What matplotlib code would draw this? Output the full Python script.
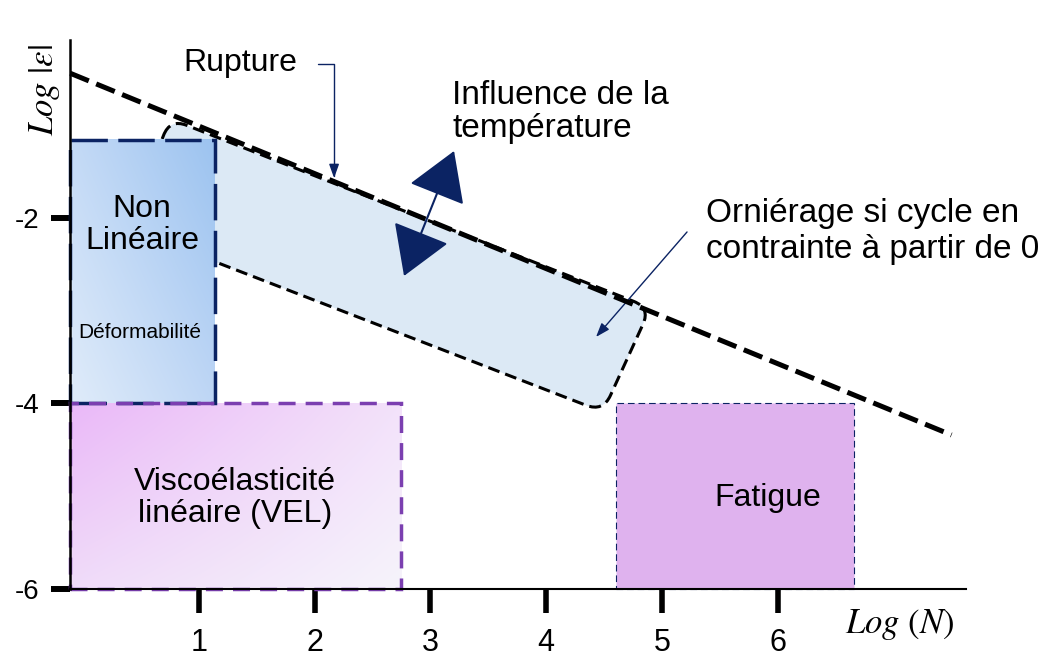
import matplotlib.pyplot as plt
import numpy as np
from matplotlib.path import Path
from matplotlib.patches import PathPatch, Rectangle, FancyArrowPatch

plt.rcParams['font.family'] = ['Liberation Sans', 'DejaVu Sans']
plt.rcParams['mathtext.fontset'] = 'stix'

# axis ticks
xticks = [1, 2, 3, 4, 5, 6]
yticks = [-2, -4, -6]
ytick_labels = ['-2', '-4', '-6']

# domains: [log N from, to], [log eps from, to]
nonlin_x = [-0.11, 1.14]
nonlin_y = [-4.0, -1.16]
vel_x = [-0.11, 2.75]
vel_y = [-6.0, -4.0]
fatigue_x = [4.60, 6.66]
fatigue_y = [-6.0, -4.0]

# rupture line
rupture_x = [-0.11, 7.50]
rupture_y = [-0.44, -4.34]

# rutting band corners (top-left, top-right, bottom-right, bottom-left)
band_x = [0.75, 4.90, 4.49, 0.39]
band_y = [-0.93, -2.97, -4.09, -2.11]

navy = '#0b2363'

fig = plt.figure(figsize=(10.46, 6.59), dpi=100)
ax = fig.add_axes([0, 0, 1, 1])
ax.set_xlim(-0.717, 8.316)
ax.set_ylim(-6.755, 0.350)


def gradient(xr, yr, c_bl, c_br, c_tl, c_tr, z):
    # blend the four corner colours over a fine grid
    u = np.linspace(0, 1, 200)[None, :, None]
    v = np.linspace(0, 1, 200)[:, None, None]
    c = [np.array(k, dtype=float) / 255.0 for k in (c_bl, c_br, c_tl, c_tr)]
    img = (1 - v) * ((1 - u) * c[0] + u * c[1]) + v * ((1 - u) * c[2] + u * c[3])
    ax.imshow(img, extent=(xr[0], xr[1], yr[0], yr[1]), origin='lower',
              interpolation='bilinear', aspect='auto', zorder=z)


def rounded_path(xs, ys, r):
    pts = ax.transData.transform(np.column_stack([xs, ys]))
    n = len(pts)
    verts, codes = [], []
    for i in range(n):
        p0, p1, p2 = pts[i - 1], pts[i], pts[(i + 1) % n]
        a = p1 + (p0 - p1) / np.linalg.norm(p0 - p1) * r
        b = p1 + (p2 - p1) / np.linalg.norm(p2 - p1) * r
        verts += [a, p1, b]
        codes += [Path.LINETO, Path.CURVE3, Path.CURVE3]
    codes[0] = Path.MOVETO
    verts.append(verts[0])
    codes.append(Path.CLOSEPOLY)
    verts = ax.transData.inverted().transform(np.array(verts))
    return Path(verts, codes)


# rutting band
band = PathPatch(rounded_path(band_x, band_y, 18), facecolor='#dce9f5',
                 edgecolor='black', lw=2.2, linestyle=(0, (3.9, 2.0)), zorder=1)
ax.add_patch(band)

# non linear box
gradient(nonlin_x, nonlin_y, (224, 236, 250), (190, 214, 245),
         (196, 218, 246), (156, 195, 240), 2)
ax.add_patch(Rectangle((nonlin_x[0], nonlin_y[0]), nonlin_x[1] - nonlin_x[0],
                       nonlin_y[1] - nonlin_y[0], fill=False, edgecolor=navy,
                       lw=2.5, linestyle=(0, (10.5, 3.0)), zorder=3))

# VEL box
gradient(vel_x, vel_y, (240, 220, 249), (246, 244, 251),
         (234, 184, 248), (243, 226, 250), 2)
ax.add_patch(Rectangle((vel_x[0], vel_y[0]), vel_x[1] - vel_x[0],
                       vel_y[1] - vel_y[0], fill=False, edgecolor='#7b3fb0',
                       lw=2.5, linestyle=(0, (4.9, 2.9)), zorder=3))

# fatigue box
ax.add_patch(Rectangle((fatigue_x[0], fatigue_y[0]), fatigue_x[1] - fatigue_x[0],
                       fatigue_y[1] - fatigue_y[0], facecolor='#dfb2ee',
                       edgecolor=navy, lw=0.8, linestyle=(0, (6, 3.5)), zorder=2))

# rupture line
ax.plot(rupture_x, rupture_y, color='black', lw=3.6, dashes=(4, 1.6),
        solid_capstyle='butt', zorder=4)

# axes
ax.spines['left'].set_position(('data', -0.112))
ax.spines['bottom'].set_position(('data', -6.0))
ax.spines['left'].set_bounds(-6.0, -0.08)
ax.spines['bottom'].set_bounds(-0.112, 7.625)
ax.spines['left'].set_linewidth(1.8)
ax.spines['bottom'].set_linewidth(1.5)
ax.spines['top'].set_visible(False)
ax.spines['right'].set_visible(False)
for s in ['left', 'bottom']:
    ax.spines[s].set_zorder(5)

ax.set_xticks(xticks)
ax.set_xticklabels([str(t) for t in xticks])
ax.set_yticks(yticks)
ax.set_yticklabels(ytick_labels)
ax.tick_params(axis='y', direction='out', length=14, width=4.3, pad=8, labelsize=20)
ax.tick_params(axis='x', direction='out', length=17, width=4, pad=11, labelsize=22)

ax.text(-0.33, -0.62, r'$Log\ |\epsilon|$', rotation=90, fontsize=25,
        ha='center', va='center')
ax.text(7.05, -6.38, r'$Log\ (N)$', fontsize=25, ha='center', va='center')

# labels in boxes
ax.text(0.51, -2.08, 'Non\nLinéaire', fontsize=23, ha='center', va='center',
        linespacing=1.08, zorder=6)
ax.text(0.49, -3.24, 'Déformabilité', fontsize=15, ha='center', va='center', zorder=6)
ax.text(1.31, -5.02, 'Viscoélasticité\nlinéaire (VEL)', fontsize=23,
        ha='center', va='center', linespacing=1.08, zorder=6)
ax.text(5.91, -5.02, 'Fatigue', fontsize=23, ha='center', va='center', zorder=6)

# annotations
ax.text(0.87, -0.33, 'Rupture', fontsize=23, ha='left', va='center')
ax.annotate('', xy=(2.168, -1.57), xytext=(2.03, -0.34),
            arrowprops=dict(arrowstyle='-|>,head_length=0.7,head_width=0.25',
                            connectionstyle='angle,angleA=0,angleB=90,rad=0',
                            shrinkA=0, shrinkB=0, color=navy, lw=1,
                            mutation_scale=12))

ax.text(3.19, -0.86, 'Influence de la\ntempérature', fontsize=24,
        ha='left', va='center', linespacing=1.1)
ax.add_patch(FancyArrowPatch((2.772, -2.625), (3.204, -1.278),
                             arrowstyle='<|-|>,head_length=31,head_width=19',
                             mutation_scale=1, lw=1.5, color=navy,
                             shrinkA=0, shrinkB=0, zorder=6))

ax.text(5.38, -2.15, 'Orniérage si cycle en\ncontrainte à partir de 0',
        fontsize=24, ha='left', va='center', linespacing=1.2)
ax.annotate('', xy=(4.43, -3.283), xytext=(5.216, -2.151),
            arrowprops=dict(arrowstyle='-|>,head_length=0.7,head_width=0.25',
                            shrinkA=0, shrinkB=0, color=navy, lw=1,
                            mutation_scale=12))

fig.savefig('out.png', dpi=100)
